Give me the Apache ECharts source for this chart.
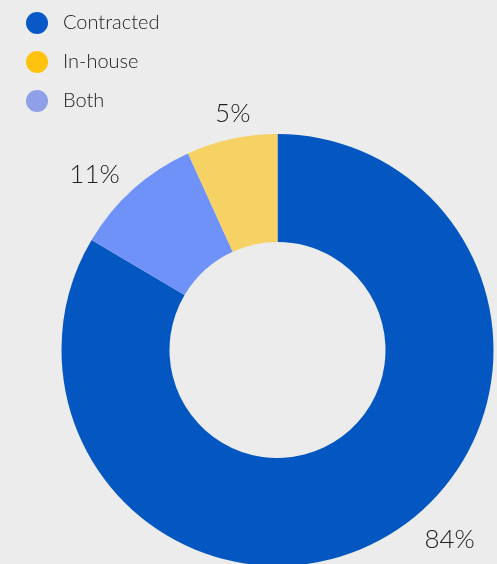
<!DOCTYPE html>
<html>
<head>
<meta charset="utf-8">
<script src="https://cdn.jsdelivr.net/npm/echarts@6/dist/echarts.min.js"></script>
<style>
  html, body { margin: 0; padding: 0; background: #ececec; }
  #chart { width: 497px; height: 564px; }
</style>
</head>
<body>
<div id="chart"></div>
<script>
// categories in legend order
const categories = ['Contracted', 'In-house', 'Both'];
// slice sizes as drawn (degrees, in %)
const sliceValues = [83.5, 6.8, 9.7];
// printed labels
const sliceLabels = ['84%', '5%', '11%'];
// clockwise order of slices starting at 12 o'clock
const pieOrder = [0, 2, 1];

const sliceColors = ['#0457c1', '#f6d163', '#6f92f9'];
const legendColors = ['#0a57c8', '#ffc20e', '#8f9fe8'];
// label nudges, per category
const labelShift = [[25, -15], [28, -6], [5, 0]];

let myChart = echarts.init(document.getElementById('chart'));

let pieData = pieOrder.map(function (i) {
    return {
        name: categories[i],
        value: sliceValues[i],
        label: { formatter: sliceLabels[i] },
        itemStyle: { color: sliceColors[i] }
    };
});

let option = {
    backgroundColor: '#ececec',
    animation: false,
    legend: {
        orient: 'vertical',
        left: 21,
        top: 7,
        itemWidth: 22,
        itemHeight: 22,
        itemGap: 17,
        icon: 'circle',
        selectedMode: false,
        data: categories.map(function (c, i) {
            return { name: c, itemStyle: { color: legendColors[i] } };
        }),
        textStyle: {
            fontFamily: 'Lato',
            fontWeight: 300,
            fontSize: 20,
            color: '#222',
            padding: [0, 0, 0, 10]
        }
    },
    series: [{
        type: 'pie',
        center: [277.5, 350],
        radius: [108, 216],
        startAngle: 90,
        clockwise: true,
        avoidLabelOverlap: false,
        label: {
            show: true,
            position: 'outside',
            fontFamily: 'Lato',
            fontWeight: 300,
            fontSize: 26,
            color: '#222'
        },
        labelLine: { show: false, length: 20, length2: 0 },
        labelLayout: function (params) {
            let s = labelShift[pieOrder[params.dataIndex]];
            return { dx: s[0], dy: s[1] };
        },
        emphasis: { disabled: true },
        data: pieData
    }]
};
myChart.setOption(option);
</script>
</body>
</html>
